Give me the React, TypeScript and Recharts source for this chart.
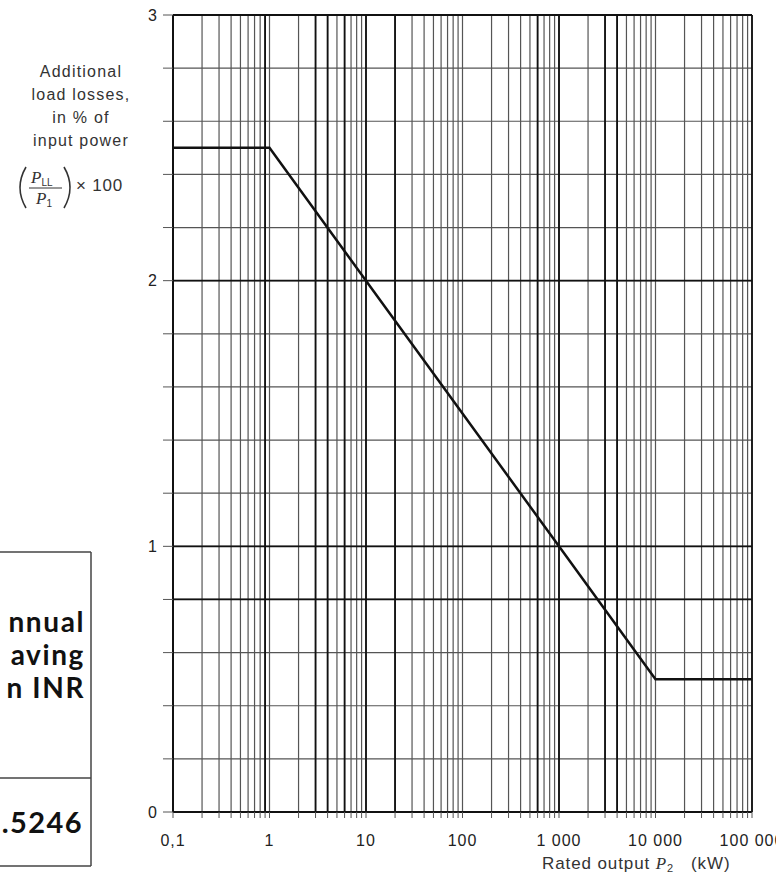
import React from 'react';
import {
  LineChart,
  Line,
  XAxis,
  YAxis,
  CartesianGrid,
  ReferenceLine,
} from 'recharts';

// Rated output P2 (kW) and additional load losses (% of input power)
const ratedOutput = [0.1, 1, 10, 100, 1000, 10000, 100000];
const loadLosses = [2.5, 2.5, 2.0, 1.5, 1.0, 0.5, 0.5];

// x axis: decades and their labels, plus minor multipliers for the log grid
const decades = [0.1, 1, 10, 100, 1000, 10000, 100000];
const decadeLabels = ['0,1', '1', '10', '100', '1 000', '10 000', '100 000'];
const minorMultipliers = [1, 2, 3, 4, 5, 6, 7, 8, 9];

// y axis ticks (grid every 0.2, labels at integers)
const yTicks = [0, 0.2, 0.4, 0.6, 0.8, 1, 1.2, 1.4, 1.6, 1.8, 2, 2.2, 2.4, 2.6, 2.8, 3];
const yLabels = ['0', '1', '2', '3'];

// heavier grid lines in the scanned original
const heavyX = [0.9, 3, 4, 6, 10, 20, 600, 1000, 3000, 4000, 100000];
const heavyY = [3, 2, 1, 0.8];

// box text (cropped table on the left)
const boxLines = ['nnual', 'aving', 'n INR'];
const boxValue = '.5246';

const yTitleLines = ['Additional', 'load losses,', 'in % of', 'input power'];

const xTicks: number[] = [];
decades.forEach((d, i) => {
  if (i === decades.length - 1) {
    xTicks.push(d);
  } else {
    minorMultipliers.forEach((m) => xTicks.push(parseFloat((d * m).toPrecision(6))));
  }
});

const data = ratedOutput.map((x, i) => ({ x, y: loadLosses[i] }));

const fmtX = (v: number) => {
  const i = decades.findIndex((d) => Math.abs(d - v) / d < 1e-6);
  return i >= 0 ? decadeLabels[i] : '';
};
const fmtY = (v: number) => {
  const r = Math.round(v);
  return Math.abs(r - v) < 1e-6 ? yLabels[r] : '';
};

const FONT = '"Liberation Sans", Arial, sans-serif';
const BOXFONT = 'Lato, "Open Sans", sans-serif';

export default function App() {
  return (
    <div
      style={{
        position: 'absolute',
        left: 0,
        top: 0,
        width: 776,
        height: 891,
        background: '#fff',
        overflow: 'hidden',
        fontFamily: FONT,
      }}
    >
      <LineChart
        width={776}
        height={891}
        data={data}
        margin={{ top: 15, right: 24, left: 113, bottom: 39 }}
        style={{ fontFamily: FONT }}
      >
        <CartesianGrid stroke="#555" strokeWidth={1.2} />
        <XAxis
          dataKey="x"
          type="number"
          scale="log"
          domain={[0.1, 100000]}
          allowDataOverflow
          ticks={xTicks}
          interval={0}
          tickFormatter={fmtX}
          height={40}
          tickSize={6}
          tickMargin={17}
          axisLine={{ stroke: '#111', strokeWidth: 2 }}
          tickLine={{ stroke: '#555' }}
          tick={{ fontSize: 16, fill: '#222', letterSpacing: 1 }}
        />
        <YAxis
          type="number"
          domain={[0, 3]}
          ticks={yTicks}
          interval={0}
          tickFormatter={fmtY}
          width={60}
          tickSize={10}
          tickMargin={6}
          axisLine={{ stroke: '#111', strokeWidth: 2 }}
          tickLine={{ stroke: '#555' }}
          tick={{ fontSize: 16, fill: '#222' }}
        />
        {heavyY.map((v) => (
          <ReferenceLine key={'hy' + v} y={v} stroke="#111" strokeWidth={1.8} />
        ))}
        {heavyX.map((v) => (
          <ReferenceLine key={'hx' + v} x={v} stroke="#111" strokeWidth={1.8} />
        ))}
        <Line
          dataKey="y"
          type="linear"
          stroke="#111"
          strokeWidth={2.5}
          dot={false}
          isAnimationActive={false}
        />
      </LineChart>
      <svg
        width={776}
        height={891}
        style={{ position: 'absolute', left: 0, top: 0, pointerEvents: 'none' }}
      >
        {/* y-axis title */}
        {yTitleLines.map((t, i) => (
          <text
            key={t}
            x={81}
            y={77 + i * 23}
            textAnchor="middle"
            fontSize={16}
            letterSpacing={1.2}
            fill="#333"
            fontFamily={FONT}
          >
            {t}
          </text>
        ))}
        {/* formula (P_LL / P_1) x 100 */}
        <path d="M 26 167 Q 14 187.5 26 208" stroke="#333" strokeWidth={1.6} fill="none" />
        <path d="M 64 167 Q 76 187.5 64 208" stroke="#333" strokeWidth={1.6} fill="none" />
        <text x={31} y={183} fontSize={17} fontStyle="italic" fontFamily='"Liberation Serif", serif' fill="#333">
          P
          <tspan fontSize={10} fontStyle="normal" fontFamily={FONT} dy={3}>LL</tspan>
        </text>
        <line x1={29} y1={188} x2={62} y2={188} stroke="#333" strokeWidth={1} />
        <text x={36} y={204} fontSize={17} fontStyle="italic" fontFamily='"Liberation Serif", serif' fill="#333">
          P
          <tspan fontSize={10} fontStyle="normal" fontFamily={FONT} dy={3}>1</tspan>
        </text>
        <text x={76} y={191} fontSize={17} letterSpacing={0.8} fill="#333" fontFamily={FONT}>
          × 100
        </text>
        {/* x-axis title */}
        <text x={542} y={869} fontSize={17} letterSpacing={0.9} fill="#333" fontFamily={FONT}>
          Rated output{' '}
          <tspan fontStyle="italic" fontFamily='"Liberation Serif", serif'>P</tspan>
          <tspan fontSize={11} dy={3}>2</tspan>
          <tspan dy={-3}>{'\u00a0\u00a0\u00a0(kW)'}</tspan>
        </text>
        {/* cropped table box */}
        <line x1={0} y1={552} x2={91} y2={552} stroke="#444" strokeWidth={1.5} />
        <line x1={91} y1={552} x2={91} y2={866} stroke="#444" strokeWidth={1.5} />
        <line x1={0} y1={778} x2={91} y2={778} stroke="#444" strokeWidth={1.5} />
        <line x1={0} y1={866} x2={91} y2={866} stroke="#444" strokeWidth={1.5} />
        {boxLines.map((t, i) => (
          <text
            key={t}
            x={85}
            y={632 + i * 33}
            textAnchor="end"
            fontSize={28}
            letterSpacing={1.6}
            fontWeight="bold"
            fill="#111"
            fontFamily={BOXFONT}
          >
            {t}
          </text>
        ))}
        <text
          x={83}
          y={833}
          textAnchor="end"
          fontSize={29}
          letterSpacing={1.4}
          fontWeight="bold"
          fill="#111"
          fontFamily={BOXFONT}
        >
          {boxValue}
        </text>
      </svg>
    </div>
  );
}
